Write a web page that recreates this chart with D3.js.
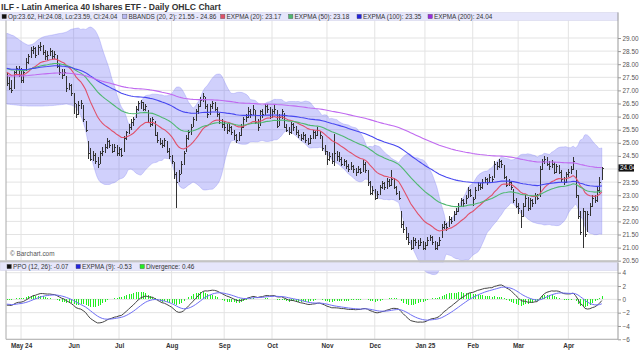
<!DOCTYPE html>
<html><head><meta charset="utf-8">
<script src="https://cdn.jsdelivr.net/npm/d3@7"></script>
<style>body{margin:0;background:#fff;} svg{display:block;font-family:"Liberation Sans",Arial,sans-serif;}</style>
</head><body><svg id="c" width="640" height="355"></svg>
<script>
// ---------------- DATA ----------------
const title = "ILF - Latin America 40 Ishares ETF - Daily OHLC Chart";
const monthLabels = ["May 24","Jun","Jul","Aug","Sep","Oct","Nov","Dec","Jan 25","Feb","Mar","Apr"];
const priceTicks = [20.5,21,21.5,22,22.5,23,23.5,24,24.5,25,25.5,26,26.5,27,27.5,28,28.5,29];
const ppoTicks = [4,2,0,-2,-4,-6];
const startDate = "2024-04-23", endDate = "2025-04-22";
const holidays = ["2024-05-27","2024-06-19","2024-07-04","2024-09-02","2024-11-28","2024-12-25","2025-01-01","2025-01-09","2025-01-20","2025-02-17","2025-04-18"];
const legendMain = ["Op:23.62, Hi:24.08, Lo:23.59, Cl:24.04","BBANDS (20, 2): 21.55 - 24.86","EXPMA (20): 23.17","EXPMA (50): 23.18","EXPMA (100): 23.35","EXPMA (200): 24.04"];
const legendLower = ["PPO (12, 26): -0.07","EXPMA (9): -0.53","Divergence: 0.46"];
const lastLabel = "24.04";

const open = [
 [27.50,27.30,27.10,27.10,27.70,27.85],
 [27.60,27.40,27.80,28.10,28.30,28.55,28.60,28.40,28.65,28.70,28.45,28.30,28.35,28.50,28.30,28.30,27.95,27.70,27.60,27.50,27.10,27.20],
 [26.60,26.40,26.10,26.45,26.40,25.80,25.00,24.60,24.40,24.50,24.30,24.25,24.60,24.70,24.85,25.05,24.90,24.70,24.85],
 [24.60,24.75,24.70,25.20,25.40,25.60,25.80,26.00,26.30,26.50,26.50,26.30,26.20,25.80,25.70,25.80,25.30,25.10,25.00,24.90,25.00,24.70],
 [24.50,24.20,23.30,23.60,23.85,24.20,24.70,25.20,25.40,25.65,25.90,26.20,26.40,26.65,26.70,26.40,26.10,26.40,26.45,26.30,26.10,25.80],
 [25.70,25.60,25.50,25.60,25.40,25.30,25.10,25.30,25.60,25.90,26.00,26.20,26.10,26.20,25.80,25.70,26.20,26.10,26.40,26.30],
 [26.00,26.20,26.20,25.70,26.00,26.10,25.60,25.50,25.40,25.70,25.60,25.40,25.30,25.20,25.30,25.10,25.00,25.20,25.40,25.30,25.40,25.20,24.80],
 [24.65,24.40,24.50,24.40,24.60,24.50,24.40,24.20,24.30,24.10,24.00,24.10,24.00,23.90,24.00,23.95,24.20,23.90,23.50,23.10],
 [23.20,22.90,23.05,23.30,23.45,23.30,23.55,23.40,23.60,23.30,23.10,22.30,21.90,21.70,21.40,21.20,21.00,21.30,21.20,21.10,21.20],
 [21.00,21.10,21.30,21.40,21.20,21.00,21.10,21.40,21.80,21.90,21.85,22.10,22.05,22.30,22.40,22.60,22.80,22.70,22.95,23.20],
 [22.70,22.90,23.20,23.40,23.30,23.50,23.60,23.50,23.70,23.70,24.20,24.10,24.30,24.10,23.70,23.40,23.50,23.20,22.80],
 [22.60,22.40,22.20,22.60,22.90,22.50,22.80,22.70,23.00,23.00,24.00,24.30,24.40,24.20,24.10,24.20,23.90,24.10,23.90,23.60,23.50],
 [23.80,23.90,24.00,23.90,22.90,22.20,21.60,22.30,21.70,22.30,22.60,22.90,22.80,23.20,23.62]
].flat();
const high = [
 [27.65,27.50,27.40,27.75,27.95,27.95],
 [27.85,27.80,28.25,28.40,28.65,28.70,28.65,28.75,28.85,28.75,28.55,28.50,28.60,28.55,28.50,28.35,28.00,27.80,27.80,27.55,27.30,27.25],
 [26.90,26.50,26.60,26.65,26.45,25.85,25.05,24.80,24.70,24.60,24.45,24.70,24.85,24.95,25.20,25.10,24.95,24.95,24.90],
 [24.85,24.80,25.25,25.45,25.70,25.90,26.00,26.40,26.60,26.65,26.55,26.50,26.25,25.95,26.00,25.85,25.40,25.20,25.10,25.20,25.05,24.80],
 [24.55,24.25,23.90,23.95,24.30,24.70,25.30,25.50,25.70,26.00,26.30,26.50,26.75,26.90,26.75,26.50,26.50,26.60,26.55,26.35,26.15,25.90],
 [25.85,25.70,25.75,25.65,25.50,25.35,25.40,25.70,26.00,26.10,26.35,26.30,26.45,26.25,25.90,26.25,26.30,26.50,26.50,26.35],
 [26.30,26.45,26.25,26.10,26.30,26.15,25.70,25.60,25.80,25.75,25.65,25.50,25.35,25.40,25.35,25.20,25.30,25.50,25.45,25.60,25.45,25.25,24.90],
 [24.70,24.65,24.60,25.35,24.70,24.65,24.45,24.40,24.35,24.20,24.25,24.15,24.05,24.10,24.05,24.35,24.25,23.95,23.55,23.35],
 [23.25,23.15,23.40,23.55,23.50,23.65,23.60,23.95,23.65,23.35,23.15,22.40,22.00,21.80,21.55,21.30,21.40,21.35,21.30,21.35,21.25],
 [21.20,21.40,21.50,21.45,21.25,21.20,21.40,21.90,22.00,21.95,22.20,22.15,22.40,22.50,22.70,22.90,22.85,23.00,23.30,23.25],
 [22.95,23.30,23.50,23.45,23.60,23.70,23.65,23.80,23.75,24.30,24.25,24.40,24.35,24.15,23.75,23.60,23.55,23.25,22.90],
 [22.70,22.45,22.70,23.00,22.95,22.90,22.85,23.10,23.05,24.10,24.40,24.50,24.45,24.30,24.35,24.25,24.20,24.15,23.95,23.70,23.90],
 [24.00,24.10,24.45,23.95,23.00,22.40,22.50,22.40,22.40,22.70,23.00,23.00,23.30,23.70,24.08]
].flat();
const low = [
 [27.15,27.00,26.90,27.05,27.60,27.50],
 [27.30,27.30,27.75,28.00,28.25,28.40,28.25,28.35,28.50,28.35,28.15,28.15,28.30,28.20,28.20,27.85,27.60,27.45,27.55,26.95,27.00,26.80],
 [26.10,25.95,26.05,26.30,25.80,25.40,24.40,24.30,24.30,24.20,24.05,24.20,24.50,24.60,24.75,24.80,24.60,24.65,24.50],
 [24.50,24.45,24.65,25.10,25.35,25.50,25.65,25.95,26.20,26.30,26.20,26.20,25.75,25.60,25.65,25.25,25.00,24.90,24.80,24.85,24.60,24.40],
 [24.20,23.60,22.50,23.50,23.80,24.15,24.65,25.10,25.30,25.60,25.85,26.10,26.35,26.55,26.30,25.95,26.05,26.30,26.20,26.00,25.70,25.55],
 [25.45,25.35,25.40,25.30,25.10,25.00,25.05,25.25,25.55,25.80,25.95,25.95,26.05,25.70,25.45,25.65,25.95,26.05,26.15,25.90],
 [25.95,26.10,25.55,25.65,25.90,25.55,25.40,25.30,25.35,25.45,25.30,25.20,25.05,25.10,25.00,24.90,24.95,25.15,25.15,25.25,25.15,24.70,24.55],
 [24.15,24.30,24.20,24.10,24.30,24.25,24.10,24.10,24.00,23.90,23.95,23.85,23.75,23.85,23.80,23.90,23.85,23.35,23.00,23.00],
 [22.80,22.85,23.00,23.25,23.20,23.25,23.30,23.35,23.25,23.00,22.80,21.75,21.55,21.30,21.10,20.90,20.95,21.05,20.95,21.05,20.90],
 [20.90,21.05,21.25,21.10,20.90,20.90,21.05,21.35,21.70,21.65,21.80,21.90,22.00,22.25,22.35,22.55,22.55,22.65,22.90,22.95],
 [22.60,22.85,23.15,23.20,23.25,23.45,23.40,23.45,23.50,23.65,23.95,24.05,24.05,23.60,23.30,23.35,23.20,22.70,22.50],
 [22.30,21.75,22.15,22.55,22.40,22.45,22.55,22.65,22.80,22.95,23.95,24.20,24.10,23.95,24.05,23.80,23.85,23.80,23.50,23.40,23.45],
 [23.70,23.80,23.95,22.90,22.10,21.50,21.00,21.40,21.60,22.20,22.55,22.70,22.75,23.10,23.59]
].flat();
const close = [
 [27.30,27.10,27.00,27.70,27.85,27.60],
 [27.40,27.70,28.10,28.30,28.55,28.60,28.35,28.65,28.70,28.45,28.30,28.35,28.50,28.30,28.40,27.95,27.70,27.60,27.70,27.10,27.20,26.90],
 [26.50,26.10,26.45,26.50,25.90,25.50,24.60,24.40,24.55,24.30,24.20,24.60,24.70,24.85,25.05,24.90,24.70,24.85,24.60],
 [24.75,24.55,25.20,25.40,25.60,25.80,25.90,26.30,26.50,26.55,26.30,26.40,25.80,25.70,25.90,25.30,25.10,25.00,24.90,25.10,24.70,24.50],
 [24.30,23.80,23.50,23.80,24.20,24.60,25.20,25.40,25.60,25.90,26.20,26.40,26.65,26.80,26.40,26.10,26.40,26.50,26.30,26.10,25.80,25.70],
 [25.60,25.50,25.60,25.40,25.30,25.10,25.30,25.60,25.90,26.00,26.20,26.10,26.30,25.80,25.60,26.20,26.10,26.40,26.30,26.00],
 [26.20,26.30,25.65,26.00,26.20,25.60,25.50,25.40,25.70,25.60,25.40,25.30,25.20,25.30,25.10,25.00,25.20,25.40,25.30,25.50,25.30,24.80,24.70],
 [24.40,24.50,24.30,24.60,24.50,24.40,24.20,24.30,24.10,24.00,24.10,24.00,23.90,24.00,23.90,24.20,23.95,23.50,23.10,23.20],
 [22.90,23.05,23.30,23.45,23.30,23.55,23.40,23.60,23.30,23.10,22.90,21.90,21.70,21.40,21.20,21.00,21.30,21.20,21.10,21.20,21.00],
 [21.10,21.30,21.40,21.20,21.00,21.10,21.30,21.80,21.90,21.80,22.10,22.00,22.30,22.40,22.60,22.80,22.70,22.90,23.20,23.00],
 [22.85,23.20,23.40,23.30,23.50,23.60,23.50,23.70,23.60,24.20,24.10,24.30,24.20,23.70,23.40,23.50,23.30,22.80,22.60],
 [22.50,22.20,22.60,22.90,22.50,22.80,22.70,23.00,22.90,24.00,24.30,24.40,24.20,24.10,24.20,23.90,24.10,23.90,23.60,23.50,23.80],
 [23.90,24.00,24.30,23.00,22.20,21.60,22.40,21.50,22.30,22.60,22.90,22.80,23.20,23.50,24.04]
].flat();
// Bollinger band values for the first bars (before a full 20-bar window exists)
const bbUpperWarm = [29.18,29.15,29.11,29.08,29.01,28.95,28.88,28.82,28.77,28.73,28.74,28.77,28.84,28.92,28.98,29.03,29.06,29.08,29.10,29.11,29.13,29.15,29.17,29.18,29.20,29.23,29.28,29.33,29.35,29.37];
const bbLowerWarm = [26.48,26.47,26.46,26.45,26.44,26.43,26.42,26.41,26.41,26.40,26.40,26.40,26.40,26.40,26.40,26.40,26.41,26.41,26.42,26.42,26.43,26.44,26.45,26.46,26.47,26.48,26.46,26.44,26.40,26.35];
// indicator values at the first bar
const emaPeriods = [20,50,100,200];
const emaSeeds = [27.69,27.84,27.84,27.56];
const ppoSeed12 = 27.38, ppoSeed26 = 27.62, signalSeed = -0.72;

// ---------------- DRAW ----------------
const svg = d3.select("#c");
const fmtDay = d3.utcFormat("%Y-%m-%d");
const hol = new Set(holidays);
const dates = [];
for (let d = new Date(startDate+"T00:00:00Z"); d <= new Date(endDate+"T00:00:00Z"); d = d3.utcDay.offset(d,1)) {
  const wd = d.getUTCDay();
  if (wd>0 && wd<6 && !hol.has(fmtDay(d))) dates.push(d);
}
const N = close.length;
const idx = d3.range(N);
const L = 6, R = 618, TOP = 12.5, MB = 260.7, LT = 262.5, LB = 339.3;
const x = d3.scaleLinear().domain([0, N-1]).range([6.7, 601.8]);
const y = d3.scaleLinear().domain([20.5, 29]).range([MB, 38]);
const yp = d3.scaleLinear().domain([-6, 4]).range([LB, 272.7]);
const monthStarts = [];
dates.forEach((d,i)=>{ if(i>0 && d.getUTCMonth()!==dates[i-1].getUTCMonth()) monthStarts.push(i); });

function ema(src, n, seed){ const a=2/(n+1); const out=[seed]; for(let i=1;i<src.length;i++) out.push(out[i-1]+a*(src[i]-out[i-1])); return out; }
const emas = emaPeriods.map((p,k)=>ema(close,p,emaSeeds[k]));
const bbU=[], bbL=[];
for (let i=0;i<N;i++){
  if (i<bbUpperWarm.length){ bbU.push(bbUpperWarm[i]); bbL.push(bbLowerWarm[i]); continue; }
  const w = close.slice(i-19,i+1); const m = d3.mean(w); const sd = Math.sqrt(d3.mean(w,v=>(v-m)*(v-m)));
  bbU.push(m+2*sd); bbL.push(m-2*sd);
}
const e12 = ema(close,12,ppoSeed12), e26 = ema(close,26,ppoSeed26);
const ppo = idx.map(i=>(e12[i]-e26[i])/e26[i]*100);
const sig = [signalSeed]; for(let i=1;i<N;i++) sig.push(sig[i-1]+0.2*(ppo[i]-sig[i-1]));
const div = idx.map(i=>ppo[i]-sig[i]);

// title
svg.append("text").attr("x",1).attr("y",9.5).attr("font-size",8.6).attr("font-weight","bold").attr("fill","#333").text(title);

// grids
const gridC = "#e3e3e3";
const g = svg.append("g");
g.selectAll(".hg").data(priceTicks).join("line").attr("x1",L).attr("x2",R).attr("y1",d=>y(d)).attr("y2",d=>y(d)).attr("stroke",gridC).attr("stroke-width",1);
g.selectAll(".vg").data(monthStarts).join("line").attr("x1",d=>x(d)).attr("x2",d=>x(d)).attr("y1",20.5).attr("y2",MB).attr("stroke",gridC);
g.selectAll(".hg2").data(ppoTicks).join("line").attr("x1",L).attr("x2",R).attr("y1",d=>yp(d)).attr("y2",d=>yp(d)).attr("stroke",gridC);
g.selectAll(".vg2").data(monthStarts).join("line").attr("x1",d=>x(d)).attr("x2",d=>x(d)).attr("y1",270.5).attr("y2",LB).attr("stroke",gridC);

// Bollinger band
svg.append("path").datum(idx).attr("fill","rgba(110,110,245,0.32)").attr("stroke","rgba(120,120,240,0.5)").attr("stroke-width",0.6)
  .attr("d", d3.area().x(i=>x(i)).y0(i=>y(bbL[i])).y1(i=>y(bbU[i])).curve(d3.curveMonotoneX));

// OHLC bars
const bars = svg.append("g").attr("stroke","#333").attr("stroke-width",1).attr("shape-rendering","crispEdges");
idx.forEach(i=>{
  const cx = Math.round(x(i))+0.5;
  bars.append("line").attr("x1",cx).attr("x2",cx).attr("y1",y(high[i])).attr("y2",y(low[i]));
  bars.append("line").attr("x1",cx-1).attr("x2",cx).attr("y1",Math.round(y(open[i]))+0.5).attr("y2",Math.round(y(open[i]))+0.5);
  bars.append("line").attr("x1",cx).attr("x2",cx+1.5).attr("y1",Math.round(y(close[i]))+0.5).attr("y2",Math.round(y(close[i]))+0.5);
});

// EMA lines
const emaColors = ["#e0506a","#4fb870","#4646f0","#c06af0"];
emas.forEach((s,k)=>{
  svg.append("path").datum(idx).attr("fill","none").attr("stroke",emaColors[k]).attr("stroke-width",1.1)
    .attr("d", d3.line().x(i=>x(i)).y(i=>y(s[i])));
});

// lower panel
svg.append("g").selectAll("line").data(idx).join("line")
  .attr("x1",i=>Math.round(x(i))+0.5).attr("x2",i=>Math.round(x(i))+0.5)
  .attr("y1",yp(0)).attr("y2",i=>yp(div[i])).attr("stroke","#22ee22").attr("stroke-width",1).attr("shape-rendering","crispEdges");
svg.append("path").datum(idx).attr("fill","none").attr("stroke","#444").attr("stroke-width",1)
  .attr("d", d3.line().x(i=>x(i)).y(i=>yp(ppo[i])));
svg.append("path").datum(idx).attr("fill","none").attr("stroke","#6f6ff5").attr("stroke-width",1)
  .attr("d", d3.line().x(i=>x(i)).y(i=>yp(sig[i])));

// legend bands
function legendBand(y0, items, xs, colors){
  svg.append("rect").attr("x",0.5).attr("y",y0).attr("width",R-0.5).attr("height",8).attr("fill","#e6e6fb").attr("stroke","#d0d0e8").attr("stroke-width",0.5);
  items.forEach((t,k)=>{
    svg.append("rect").attr("x",xs[k]).attr("y",y0+1.8).attr("width",4.4).attr("height",4.4).attr("fill",colors[k]).attr("stroke","#555").attr("stroke-width",0.4);
    svg.append("text").attr("x",xs[k]+6).attr("y",y0+6.4).attr("font-size",6.4).attr("fill","#333").text(t);
  });
}
legendBand(TOP, legendMain, [2,122.5,220.5,288.5,357,428], ["#111","#b8b8f4",emaColors[0],emaColors[1],"#2222e0","#9a2be0"]);
legendBand(LT, legendLower, [7,76,140], ["#111","#2222e0","#22ee22"]);

// frames
const frame = svg.append("g").attr("stroke","#aaa").attr("fill","none");
frame.append("line").attr("x1",L).attr("x2",L).attr("y1",20.5).attr("y2",MB);
frame.append("line").attr("x1",L).attr("x2",L).attr("y1",270.5).attr("y2",LB);
svg.append("line").attr("x1",0).attr("x2",R).attr("y1",261.3).attr("y2",261.3).attr("stroke","#c4c4c4").attr("stroke-width",2);
svg.append("line").attr("x1",L).attr("x2",R).attr("y1",LB).attr("y2",LB).attr("stroke","#bbb").attr("stroke-width",1.2);

// right axes (the 24.00 label sits under the last-price box)
const ax1 = svg.append("g").attr("transform",`translate(${R},0)`).call(d3.axisRight(y).tickValues(priceTicks).tickFormat(d=>d===24?"":d3.format(".2f")(d)).tickSize(3).tickPadding(1.5));
const ax2 = svg.append("g").attr("transform",`translate(${R},0)`).call(d3.axisRight(yp).tickValues(ppoTicks).tickFormat(d3.format("d")).tickSize(3).tickPadding(1.5));
[ax1,ax2].forEach(a=>{ a.select(".domain").attr("stroke","#999"); a.selectAll(".tick line").attr("stroke","#999"); a.selectAll("text").attr("font-size",6.4).attr("fill","#555").attr("font-family","Liberation Sans, Arial, sans-serif"); });
ax1.select(".domain").attr("d",`M0,12.5V${MB}`);
ax2.select(".domain").attr("d",`M0,${LT}V${LB}`);

// last price box
svg.append("rect").attr("x",R+0.5).attr("y",y(24.04)-3.6).attr("width",15.5).attr("height",7.2).attr("fill","#111");
svg.append("text").attr("x",R+2).attr("y",y(24.04)+2.3).attr("font-size",6.4).attr("fill","#fff").text(lastLabel);

// bottom axis labels
const ax3 = svg.append("g").attr("transform",`translate(0,${LB})`).call(d3.axisBottom(x).tickValues(monthStarts).tickFormat((d,k)=>monthLabels[k]).tickSize(0).tickPadding(4));
ax3.select(".domain").remove();
ax3.selectAll("text").attr("font-size",6.4).attr("font-weight","bold").attr("fill","#333").attr("font-family","Liberation Sans, Arial, sans-serif");

svg.append("text").attr("x",10).attr("y",255.5).attr("font-size",6.4).attr("fill","#555").text("\u00A9 Barchart.com");
</script></body></html>
